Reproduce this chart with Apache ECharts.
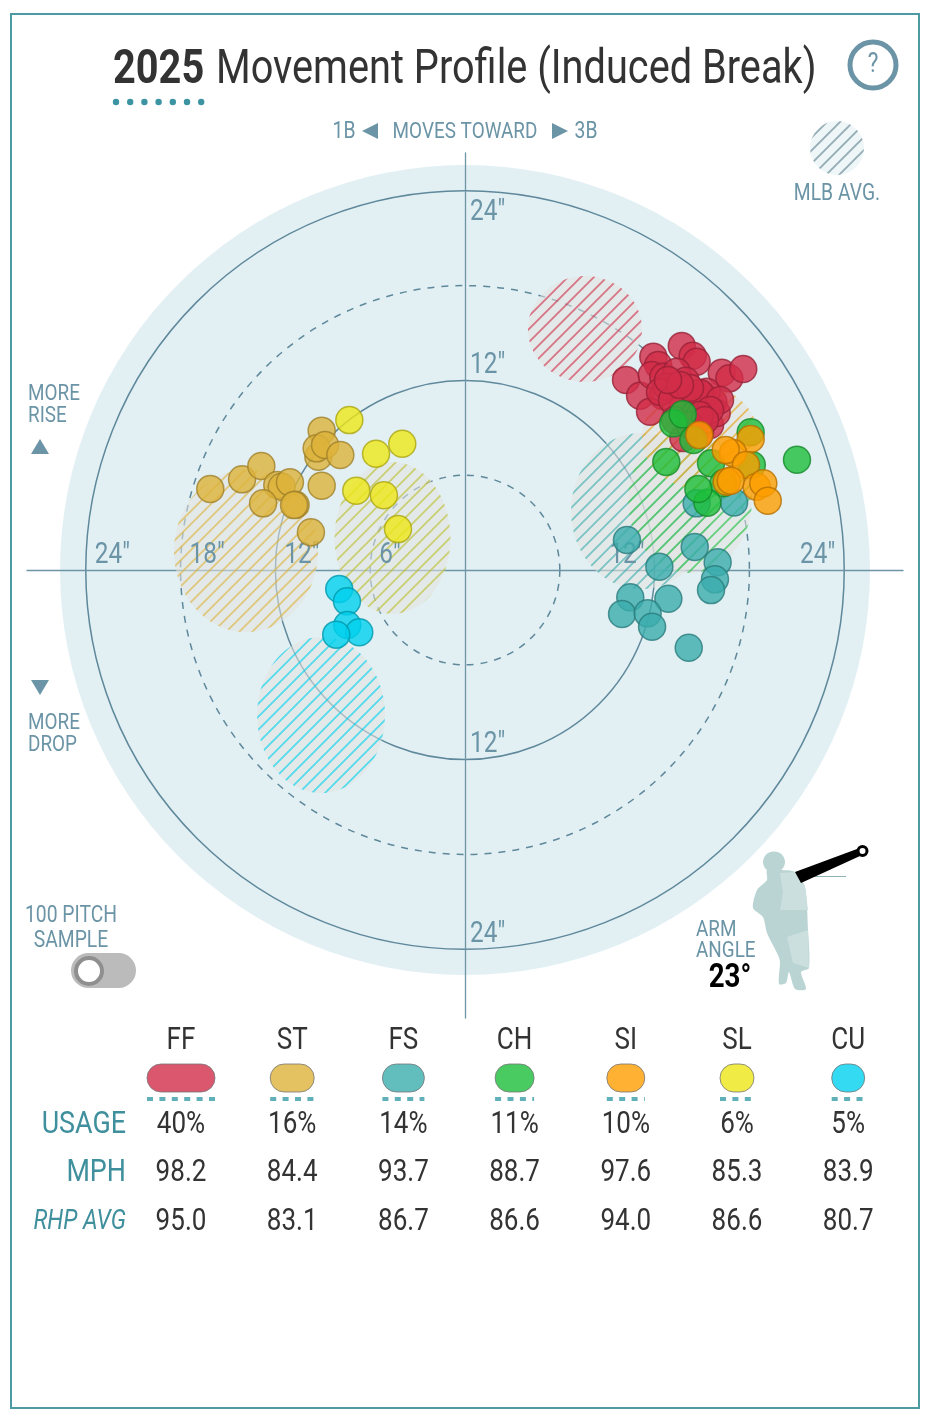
<!DOCTYPE html>
<html>
<head>
<meta charset="utf-8">
<style>html,body{margin:0;padding:0;background:#fff}#chart{width:937px;height:1422px}</style>
<script src="https://cdn.jsdelivr.net/npm/echarts@6/dist/echarts.min.js"></script>
</head>
<body>
<div id="chart"></div>
<script>
// pitch types, in table order
const pitchTypes = ["FF", "ST", "FS", "CH", "SI", "SL", "CU"];
const pitchColors = ["#D22D49", "#DDB33A", "#3BACAC", "#1DBE3A", "#FE9D00", "#EEE716", "#00D1ED"];
const pitchEdges = ["#972036", "#9f812a", "#2a7c7c", "#15892a", "#b77100", "#aba610", "#0097ab"];
const hatchColors = ["#D22D49", "#DDB33A", "#3BACAC", "#1DBE3A", "#E8A010", "#BDBE2A", "#00D1ED"];
const usagePct = [40, 16, 14, 11, 10, 6, 5];
const mphValues = ["98.2", "84.4", "93.7", "88.7", "97.6", "85.3", "83.9"];
const rhpAvgValues = ["95.0", "83.1", "86.7", "86.6", "94.0", "86.6", "80.7"];

// rings and tick labels, inches
const ringValues = [6, 12, 18, 24];
const xTickValues = [-24, -18, -12, -6, 12, 24];
const yTickValues = [24, 12, -12, -24];

// pitches [horizontal break, induced vertical break], inches
const ffPitches = [[13.72,14.18],[14.41,13.56],[14.66,13.18],[11.92,13.5],[12.23,12.97],[10.19,12.03],[11.08,11.03],[11.82,12.34],[12.51,11.01],[12.55,12.23],[13.4,12.55],[13.97,11.98],[16.25,12.49],[16.73,12.13],[17.61,12.72],[13.8,10.44],[14.66,10.87],[15.06,11.08],[15.72,10.65],[11.71,10.02],[15.51,9.18],[15.93,9.94],[13.82,8.35],[14.87,8.67],[14.43,9.75],[15.3,11.28],[12.77,11.6],[14.87,11.2],[16.14,10.76],[12.34,11.27],[13.1,10.76],[14.24,11.52],[15.51,10.13],[13.61,11.71],[13.29,9.49],[14.87,9.81],[14.24,9.18],[12.85,12.03],[15.19,9.49]];
const stPitches = [[-16.12,5.13],[-14.11,5.74],[-12.89,6.58],[-11.88,5.38],[-11.6,5.27],[-11.08,5.55],[-12.78,4.22],[-10.72,4.13],[-10.82,4.11],[-9.07,5.34],[-9.75,2.39],[-9.07,8.82],[-9.28,7.17],[-9.39,7.7],[-8.86,7.91],[-7.89,7.28]];
const fsPitches = [[14.66,4.22],[17.03,4.28],[10.25,1.9],[12.3,0.21],[14.54,1.46],[15.99,0.49],[15.82,-0.59],[15.57,-1.27],[12.87,-1.82],[10.46,-1.73],[9.94,-2.78],[11.56,-2.74],[11.84,-3.59],[14.16,-4.92]];
const chPitches = [[13.18,9.28],[13.78,9.85],[14.45,8.23],[18.08,8.72],[21.01,6.98],[12.74,6.84],[15.57,6.75],[18.15,6.65],[16.35,5.49],[15.34,4.26],[14.77,5.13]];
const siPitches = [[14.83,8.54],[18.08,8.29],[16.96,7.41],[16.5,7.59],[17.78,6.65],[16.56,5.59],[16.82,5.65],[18.46,5.27],[18.88,5.49],[19.16,4.39]];
const slPitches = [[-7.32,9.49],[-5.63,7.36],[-3.97,7.99],[-6.88,5.02],[-5.13,4.73],[-4.24,2.59]];
const cuPitches = [[-7.96,-1.2],[-7.47,-1.98],[-7.45,-3.48],[-6.69,-3.94],[-8.15,-4.09]];
const pitchData = [ffPitches, stPitches, fsPitches, chPitches, siPitches, slPitches, cuPitches];

// MLB averages [centre x, centre y, spread x, spread y], inches
const mlbAverages = [[7.59,15.25,3.61,3.35],[-13.86,1.2,4.56,5.13],[11.14,3.73,4.43,4.94],[14.24,4.43,3.92,4.62],[14.87,8.42,3.67,3.29],[-4.59,2.03,3.67,4.81],[-9.11,-9.18,4.05,4.94]];

const slate = "#6b94a6";
const teal = "#3f8f9d";
const ink = "#333333";
const narrow = 0.84; // Roboto squeezed to look like the condensed face

function hatch(color, bg) {
  const c = document.createElement("canvas");
  c.width = c.height = 13;
  const g = c.getContext("2d");
  g.fillStyle = bg || "rgba(228,228,224,0.55)";
  g.fillRect(0, 0, 13, 13);
  g.strokeStyle = color;
  g.globalAlpha = 0.62;
  g.lineWidth = 1.9;
  g.beginPath();
  g.moveTo(-2, 15); g.lineTo(15, -2);
  g.moveTo(-2, 2); g.lineTo(2, -2);
  g.moveTo(11, 15); g.lineTo(15, 11);
  g.stroke();
  return { image: c, repeat: "repeat" };
}

function txt(text, x, y, size, fill, align, weight, style) {
  return {
    type: "text", x: x, y: y + 2, scaleX: narrow, silent: true,
    style: {
      text: text, fill: fill, align: align || "center", verticalAlign: "middle",
      font: (style || "normal") + " " + (weight || 400) + " " + size + "px Roboto"
    }
  };
}

function tri(points, fill) {
  return { type: "polygon", silent: true, shape: { points: points }, style: { fill: fill } };
}

const graphics = [
  { type: "rect", silent: true, shape: { x: 11, y: 14, width: 908, height: 1394 }, style: { fill: "none", stroke: "#4d9aa3", lineWidth: 2 } },
  txt("2025", 113, 69, 47.3, ink, "left", 700),
  txt("Movement Profile (Induced Break)", 216, 69, 47.3, ink, "left"),
  { type: "circle", silent: true, shape: { cx: 873, cy: 65, r: 23 }, style: { fill: "none", stroke: slate, lineWidth: 5 } },
  txt("?", 873, 63, 27, slate),
  txt("1B", 344, 130, 23, slate),
  tri([[362, 131], [378, 123], [378, 139]], slate),
  txt("MOVES TOWARD", 465, 130, 22.5, slate),
  tri([[568, 131], [552, 123], [552, 139]], slate),
  txt("3B", 586, 130, 23, slate),
  { type: "circle", silent: true, shape: { cx: 837, cy: 148, r: 27 }, style: { fill: hatch("#5f7f8c", "rgba(226,240,244,0.6)") } },
  txt("MLB AVG.", 837, 192, 23, slate),
  txt("MORE", 28, 392, 22.5, slate, "left"),
  txt("RISE", 28, 414, 22.5, slate, "left"),
  tri([[40, 439], [31, 454], [49, 454]], slate),
  tri([[40, 695], [31, 680], [49, 680]], slate),
  txt("MORE", 28, 721, 22.5, slate, "left"),
  txt("DROP", 28, 743, 22.5, slate, "left"),
  txt("100 PITCH", 71, 914, 23, slate),
  txt("SAMPLE", 71, 939, 23, slate),
  { type: "rect", silent: true, shape: { x: 71, y: 953, width: 65, height: 35, r: 17.5 }, style: { fill: "#bbbbbb" } },
  { type: "circle", silent: true, shape: { cx: 89, cy: 971, r: 13 }, style: { fill: "#fff", stroke: "#8f8f8f", lineWidth: 4 } },
  txt("ARM", 696, 928, 22.5, slate, "left"),
  txt("ANGLE", 696, 949, 22.5, slate, "left"),
  txt("23°", 730, 977, 33, "#000", "center", 700),
  // pitcher figure
  { type: "polygon", silent: true, shape: { smooth: 0.25, points: [[767,870],[767,880],[757,890],[753,908],[763,917],[767,933],[778,955],[780,962],[779,984],[786,983],[789,972],[795,989],[806,989],[801,972],[809,968],[808,930],[805,887],[795,872],[780,870]] }, style: { fill: "#b9d4d3" } },
  { type: "polygon", silent: true, shape: { points: [[780,873],[795,872],[805,887],[808,910],[780,910],[783,893]] }, style: { fill: "#cbdfde" } },
  { type: "polygon", silent: true, shape: { points: [[787,937],[808,930],[809,968],[793,963]] }, style: { fill: "#cbdfde" } },
  { type: "ellipse", silent: true, shape: { cx: 774, cy: 862, rx: 11, ry: 10.5 }, style: { fill: "#b9d4d3" } },
  { type: "line", silent: true, shape: { x1: 800, y1: 876.5, x2: 846, y2: 876.5 }, style: { stroke: "#8fb0b0", lineWidth: 1 } },
  tri([[795, 872], [857, 849], [860, 856], [801, 883]], "#000"),
  { type: "circle", silent: true, shape: { cx: 862.5, cy: 851, r: 4.5 }, style: { fill: "#fff", stroke: "#000", lineWidth: 3 } },
  txt("USAGE", 126, 1123, 32, teal, "right"),
  txt("MPH", 126, 1171, 32, teal, "right"),
  txt("RHP AVG", 126, 1220, 27.5, teal, "right", 400, "italic")
];

for (let i = 0; i < 7; i++) {
  graphics.push({ type: "circle", silent: true, shape: { cx: 116 + i * 14.2, cy: 102, r: 3.2 }, style: { fill: "#3c94a3" } });
}

pitchTypes.forEach(function (p, i) {
  const cx = 181 + i * 111.2;
  const w = 28 + usagePct[i];
  graphics.push(txt(p, cx, 1039, 31, ink));
  graphics.push({
    type: "rect", silent: true,
    shape: { x: cx - w / 2, y: 1064, width: w, height: 28, r: 14 },
    style: { fill: pitchColors[i], opacity: 0.8, stroke: "#77777a", lineWidth: 1 }
  });
  graphics.push({
    type: "line", silent: true,
    shape: { x1: cx - w / 2, y1: 1099, x2: cx + w / 2, y2: 1099 },
    style: { stroke: "#5fb0b8", lineWidth: 4, lineDash: [6, 6.4] }
  });
  graphics.push(txt(usagePct[i] + "%", cx, 1123, 31, ink));
  graphics.push(txt(mphValues[i], cx, 1171, 31, ink));
  graphics.push(txt(rhpAvgValues[i], cx, 1220, 31, ink));
});

const hatches = hatchColors.map(function (c) { return hatch(c); });

const series = [
  {
    type: "custom", coordinateSystem: "cartesian2d", z: 1, silent: true, clip: false, encode: { x: 0, y: 1 },
    data: [[0, 0, 25.63]],
    renderItem: function (params, api) {
      const c = api.coord([api.value(0), api.value(1)]);
      return { type: "circle", shape: { cx: c[0], cy: c[1], r: api.size([api.value(2), 0])[0] }, style: { fill: "#e2f0f4" } };
    }
  },
  {
    type: "custom", coordinateSystem: "cartesian2d", z: 1, silent: true, clip: false, encode: { x: 0 },
    data: ringValues.map(function (r) { return [r]; }),
    renderItem: function (params, api) {
      const r = api.value(0);
      const c = api.coord([0, 0]);
      return {
        type: "circle",
        shape: { cx: c[0], cy: c[1], r: api.size([r, 0])[0] },
        style: { fill: "none", stroke: "#5f889b", lineWidth: 1.5, lineDash: r % 12 ? [7, 7] : null }
      };
    }
  },
  {
    type: "custom", coordinateSystem: "cartesian2d", z: 3, silent: true, clip: false, encode: { x: 0, y: 1 },
    data: mlbAverages,
    renderItem: function (params, api) {
      const c = api.coord([api.value(0), api.value(1)]);
      const s = api.size([api.value(2), api.value(3)]);
      return { type: "ellipse", shape: { cx: c[0], cy: c[1], rx: s[0], ry: s[1] }, style: { fill: hatches[params.dataIndex] } };
    }
  },
  {
    type: "custom", coordinateSystem: "cartesian2d", z: 3, silent: true, clip: false, encode: { x: 0 },
    data: xTickValues.map(function (v) { return [v]; }),
    renderItem: function (params, api) {
      const v = api.value(0);
      const c = api.coord([v, 0]);
      const off = v < 0 ? 9 : (v === 12 ? -10 : -9);
      return txt(Math.abs(v) + '"', c[0] + off, c[1] - 16, 29, slate, v < 0 ? "left" : "right");
    }
  },
  {
    type: "custom", coordinateSystem: "cartesian2d", z: 3, silent: true, clip: false, encode: { y: 0 },
    data: yTickValues.map(function (v) { return [v]; }),
    renderItem: function (params, api) {
      const v = api.value(0);
      const c = api.coord([0, v]);
      return txt(Math.abs(v) + '"', c[0] + 5, c[1] + (v === 24 ? 20 : -17), 29, slate, "left");
    }
  }
];

pitchTypes.forEach(function (p, i) {
  series.push({
    name: p, type: "scatter", z: 4, clip: false, symbol: "circle", symbolSize: 27,
    data: pitchData[i],
    itemStyle: {
      color: pitchColors[i], opacity: 0.8,
      borderColor: pitchEdges[i], borderWidth: 1.5
    }
  });
});

const chart = echarts.init(document.getElementById("chart"), null, { renderer: "canvas" });
chart.setOption({
  animation: false,
  backgroundColor: "#fff",
  grid: { left: 27, top: 153, width: 876, height: 865 },
  xAxis: {
    type: "value", min: -27.72, max: 27.72, z: 2,
    axisLine: { onZero: true, lineStyle: { color: "#6e95a5", width: 1.3 } },
    axisTick: { show: false }, axisLabel: { show: false }, splitLine: { show: false }
  },
  yAxis: {
    type: "value", min: -28.35, max: 26.39, z: 2,
    axisLine: { onZero: true, lineStyle: { color: "#6e95a5", width: 1.3 } },
    axisTick: { show: false }, axisLabel: { show: false }, splitLine: { show: false }
  },
  graphic: { elements: graphics },
  series: series
});
</script>
</body>
</html>
